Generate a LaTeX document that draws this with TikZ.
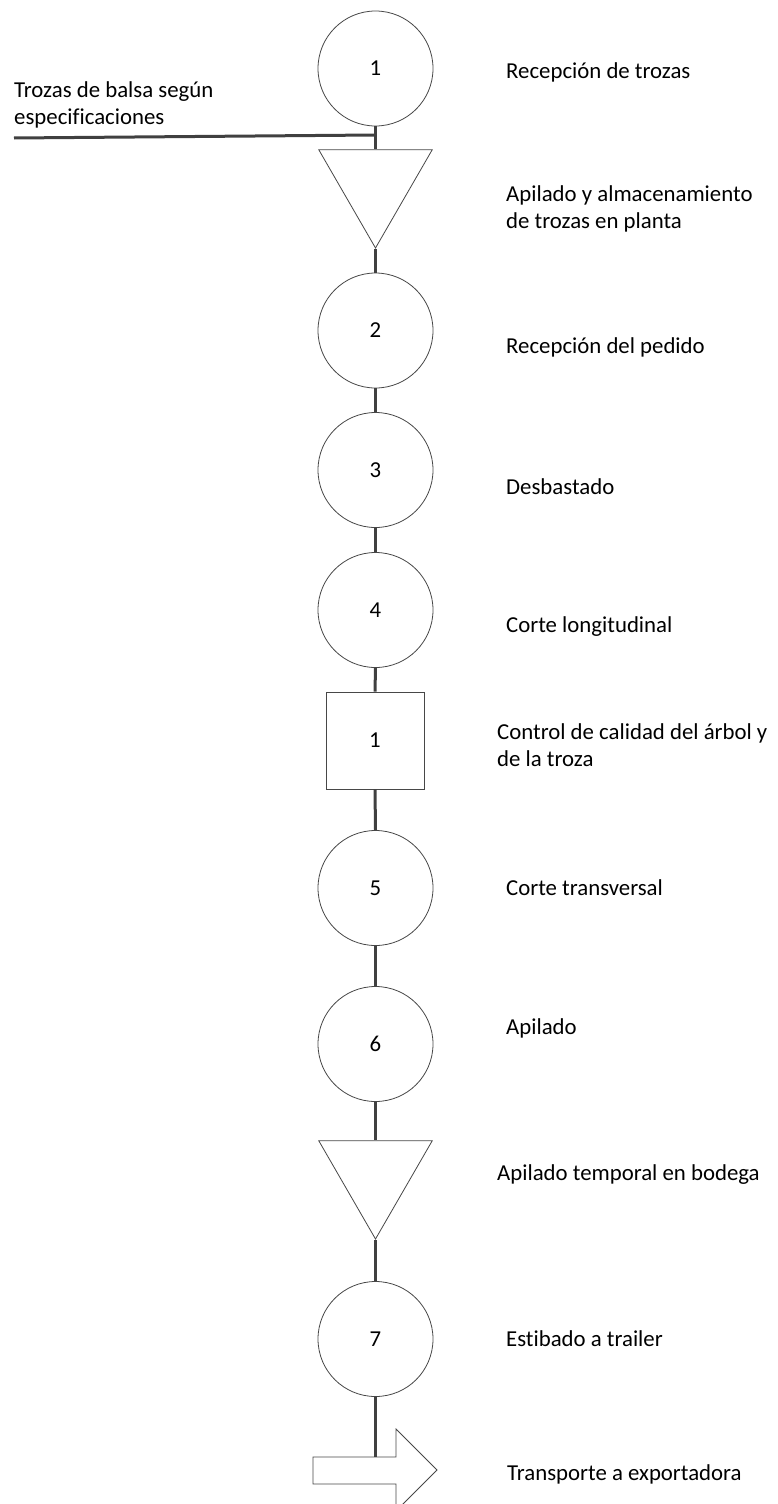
\documentclass[tikz,border=0pt]{standalone}
\usepackage{fontspec}
\setmainfont{Carlito}[Ligatures=NoCommon]
\usetikzlibrary{shapes.geometric}
\begin{document}
\begin{tikzpicture}[x=1pt,y=-1pt,
  shapeline/.style={draw=black!72,line width=0.8pt},
  opcircle/.style={shapeline,circle,minimum size=115pt,inner sep=0pt,font=\fontsize{22.8}{27}\selectfont},
  inspbox/.style={shapeline,rectangle,minimum width=98pt,minimum height=97pt,inner sep=0pt,font=\fontsize{22.8}{27}\selectfont},
  storetri/.style={shapeline,regular polygon,regular polygon sides=3,shape border rotate=180,minimum size=131pt,inner sep=0pt},
  flow/.style={draw=black!75,line width=3pt},
  desc/.style={anchor=west,align=left,inner sep=0pt,font=\fontsize{22.8}{27}\selectfont}]
\useasboundingbox (0,0) rectangle (777,1504);
\clip (0,0) rectangle (777,1504);

% process symbols along the main column
\node[opcircle] (op1) at (375.5,68.5) {1};
\node[storetri] (st1) at (375.5,182.5) {};
\node[opcircle] (op2) at (375.5,330.5) {2};
\node[opcircle] (op3) at (375.5,470) {3};
\node[opcircle] (op4) at (375.5,610) {4};
\node[inspbox]  (in1) at (375,740.5) {1};
\node[opcircle] (op5) at (375.5,888) {5};
\node[opcircle] (op6) at (375.5,1044) {6};
\node[storetri] (st2) at (375.5,1173.5) {};
\node[opcircle] (op7) at (375.5,1339) {7};

% transport arrow
\coordinate (tr) at (375.5,1457);
\draw[shapeline,fill=white] (313,1457) -- (396,1457) -- (396,1429) -- (437,1470)
  -- (396,1511) -- (396,1484) -- (313,1484) -- cycle;

% input line
\coordinate (inA) at (14,138);
\coordinate (inB) at (375.5,135);

% flow connectors
\draw[flow] (op1.south) -- (st1.north);
\draw[flow] (inA) -- (inB);
\draw[flow] (st1.south) -- (op2.north);
\draw[flow] (op2.south) -- (op3.north);
\draw[flow] (op3.south) -- (op4.north);
\draw[flow] (op4.south) -- (in1.north);
\draw[flow] (in1.south) -- (op5.north);
\draw[flow] (op5.south) -- (op6.north);
\draw[flow] (op6.south) -- (st2.north);
\draw[flow] (st2.south) -- (op7.north);
\draw[flow] (op7.south) -- (tr);

% descriptions
\node[desc] (d0) at (14,104.5) {Trozas de balsa según\\especificaciones};
\node[desc] (d1) at (506,72) {Recepción de trozas};
\node[desc] (d2) at (506,208.5) {Apilado y almacenamiento\\de trozas en planta};
\node[desc] (d3) at (506,347) {Recepción del pedido};
\node[desc] (d4) at (506,487) {Desbastado};
\node[desc] (d5) at (506,627) {Corte longitudinal};
\node[desc] (d6) at (497,745) {Control de calidad del árbol y\\de la troza};
\node[desc] (d7) at (506,888) {Corte transversal};
\node[desc] (d8) at (506,1028) {Apilado};
\node[desc] (d9) at (497,1175) {Apilado temporal en bodega};
\node[desc] (d10) at (506,1339) {Estibado a trailer};
\node[desc] (d11) at (507,1474) {Transporte a exportadora};
\end{tikzpicture}
\end{document}
